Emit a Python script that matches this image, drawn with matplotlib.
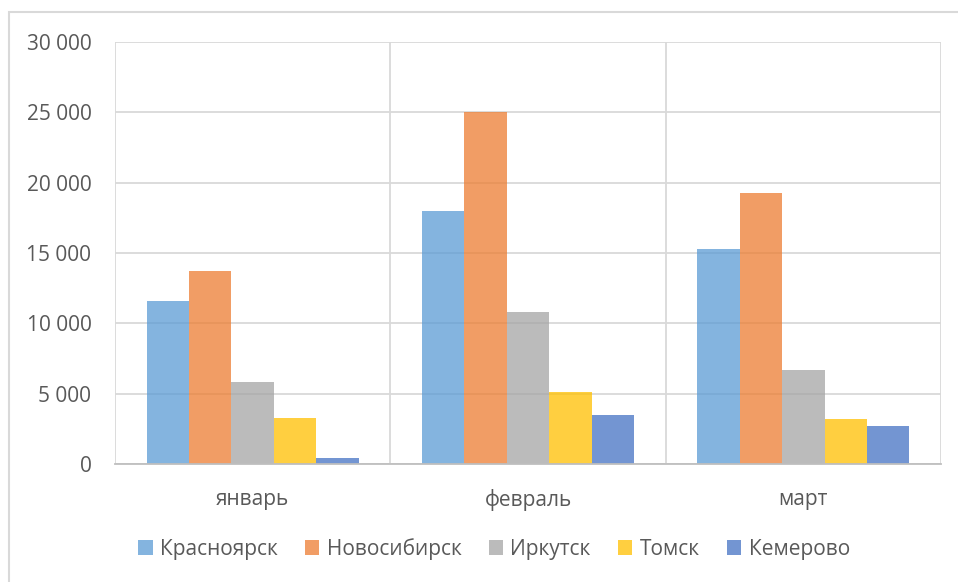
import numpy as np
import matplotlib
matplotlib.use("Agg")
from matplotlib import pyplot as plt
from matplotlib.patches import Rectangle
from matplotlib.ticker import FuncFormatter, MultipleLocator

months = ["январь", "февраль", "март"]
cities = ["Красноярск", "Новосибирск", "Иркутск", "Томск", "Кемерово"]
krasnoyarsk = [11600, 18000, 15300]
novosibirsk = [13700, 25000, 19300]
irkutsk = [5800, 10800, 6700]
tomsk = [3300, 5100, 3200]
kemerovo = [450, 3500, 2700]
series = [krasnoyarsk, novosibirsk, irkutsk, tomsk, kemerovo]
colors = ["#5B9BD5", "#ED7D31", "#A5A5A5", "#FFC000", "#4472C4"]

plt.rcParams['font.family'] = ['Open Sans', 'DejaVu Sans']
text_col = "#595959"
grid_col = "#D9D9D9"

fig = plt.figure(figsize=(9.58, 5.82), dpi=100)
ax = fig.add_axes([115/958, 1 - 464/582, (941 - 115)/958, (464 - 42)/582])

# chart area frame
fig.patches.append(Rectangle((9/958, -0.1), 1.2, 1 - 12/582 + 0.1,
                             transform=fig.transFigure, fill=False,
                             edgecolor=grid_col, linewidth=1.5))

x = np.arange(len(months))
w = 0.154
for i, (vals, c) in enumerate(zip(series, colors)):
    ax.bar(x + (i - 2) * w, vals, w, color=c, alpha=0.75, label=cities[i],
           zorder=2, linewidth=0)

ax.set_xlim(-0.5, 2.5)
ax.set_ylim(0, 30000)
ax.yaxis.set_major_locator(MultipleLocator(5000))
ax.yaxis.set_major_formatter(FuncFormatter(lambda v, p: f"{int(v):,}".replace(",", " ")))
ax.grid(axis='y', color=grid_col, linewidth=1.3, zorder=0)
for b in [-0.5, 0.5, 1.5, 2.5]:
    ax.axvline(b, color=grid_col, linewidth=1.3, zorder=0)
ax.set_axisbelow(True)

ax.set_xticks(x)
ax.set_xticklabels(months)
ax.tick_params(axis='both', length=0, labelsize=15, colors=text_col)
ax.tick_params(axis='x', pad=18)
ax.tick_params(axis='y', pad=17)
for side in ['top', 'right', 'left']:
    ax.spines[side].set_visible(False)
ax.spines['bottom'].set_color("#BFBFBF")
ax.spines['bottom'].set_linewidth(1.3)

leg = fig.legend(loc='center', bbox_to_anchor=(494/958, 1 - 549/582), ncol=5,
                 frameon=False, fontsize=15, handlelength=0.7, handleheight=0.7,
                 handletextpad=0.35, columnspacing=1.3)
for t in leg.get_texts():
    t.set_color(text_col)

fig.savefig("out.png", dpi=100)
